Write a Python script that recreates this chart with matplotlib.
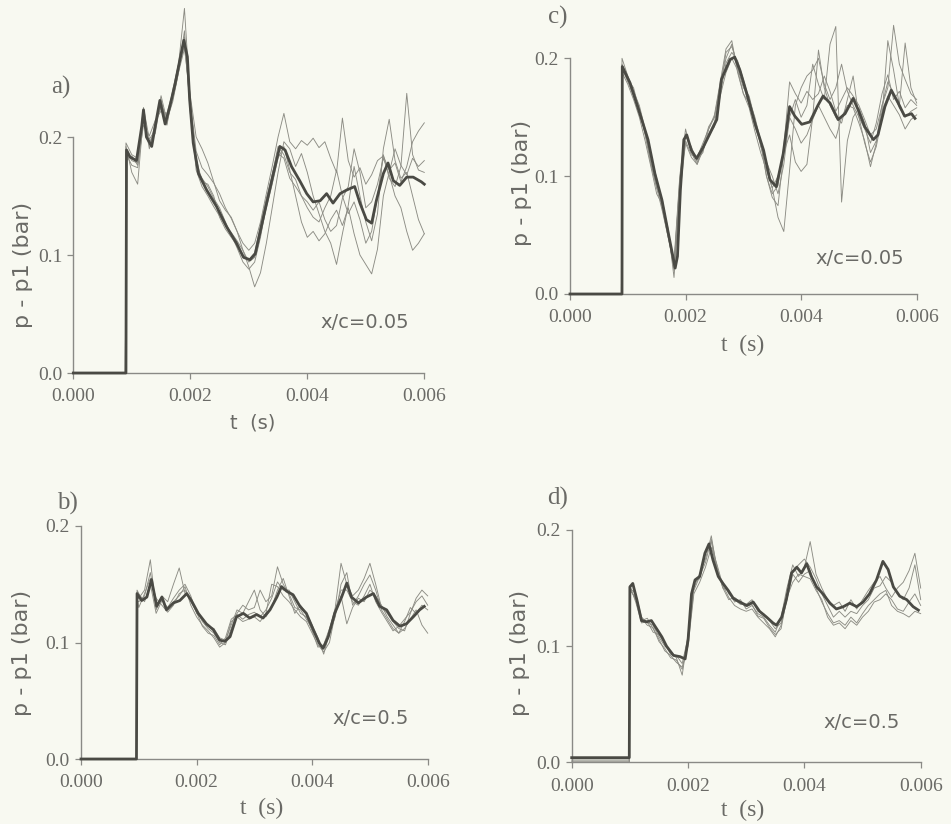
import numpy as np
import matplotlib
matplotlib.use("Agg")
import matplotlib.pyplot as plt

# ---------------------------------------------------------------------------
# Pressure histories p - p1 (bar) versus time (ms); several runs plus the mean
# ---------------------------------------------------------------------------

# Sampling grids for the individual runs (ms)
t_runs_a = [0.0, 0.89] + list(np.round(np.arange(0.9, 6.01, 0.1), 2))
t_runs_c = [0.0, 0.89] + list(np.round(np.arange(0.9, 6.01, 0.1), 2))
t_runs_b = [0.0, 0.96, 0.97] + list(np.round(np.arange(1.0, 6.01, 0.1), 2))
t_runs_d = [0.0, 0.99] + list(np.round(np.arange(1.0, 6.01, 0.1), 2))

# ---- a) x/c = 0.05, first configuration ----
runs_a = [
    [0.0, 0.0, 0.186, 0.176,
     0.174, 0.214, 0.196, 0.203, 0.232, 0.211, 0.240, 0.262, 0.309, 0.230,
     0.188, 0.174, 0.168, 0.161, 0.152, 0.140, 0.131, 0.120, 0.110, 0.104,
     0.110, 0.128, 0.152, 0.175, 0.200, 0.220, 0.196, 0.190, 0.197, 0.193,
     0.199, 0.191, 0.196, 0.182, 0.170, 0.216, 0.180, 0.166, 0.174, 0.160,
     0.168, 0.180, 0.184, 0.172, 0.178, 0.162, 0.175, 0.196, 0.205, 0.212],
    [0.0, 0.0, 0.192, 0.170,
     0.160, 0.218, 0.190, 0.212, 0.225, 0.218, 0.232, 0.255, 0.275, 0.235,
     0.200, 0.190, 0.178, 0.162, 0.146, 0.138, 0.132, 0.120, 0.104, 0.090,
     0.073, 0.085, 0.110, 0.140, 0.170, 0.196, 0.190, 0.175, 0.186, 0.170,
     0.150, 0.135, 0.120, 0.110, 0.092, 0.118, 0.142, 0.175, 0.150, 0.128,
     0.112, 0.135, 0.190, 0.215, 0.180, 0.165, 0.170, 0.150, 0.130, 0.118],
    [0.0, 0.0, 0.180, 0.184,
     0.176, 0.210, 0.201, 0.214, 0.222, 0.220, 0.238, 0.262, 0.285, 0.222,
     0.172, 0.158, 0.150, 0.141, 0.133, 0.125, 0.119, 0.112, 0.104, 0.094,
     0.098, 0.118, 0.140, 0.160, 0.182, 0.192, 0.172, 0.150, 0.128, 0.115,
     0.120, 0.112, 0.118, 0.130, 0.138, 0.125, 0.140, 0.118, 0.100, 0.092,
     0.084, 0.105, 0.150, 0.170, 0.190, 0.176, 0.168, 0.182, 0.175, 0.180],
    [0.0, 0.0, 0.195, 0.185,
     0.182, 0.225, 0.198, 0.206, 0.235, 0.214, 0.230, 0.255, 0.290, 0.220,
     0.176, 0.165, 0.158, 0.148, 0.140, 0.128, 0.117, 0.106, 0.094, 0.088,
     0.094, 0.115, 0.142, 0.168, 0.186, 0.182, 0.165, 0.158, 0.150, 0.145,
     0.138, 0.145, 0.130, 0.120, 0.125, 0.148, 0.158, 0.190, 0.170, 0.140,
     0.145, 0.160, 0.182, 0.168, 0.150, 0.140, 0.120, 0.104, 0.110, 0.118],
    [0.0, 0.0, 0.188, 0.180,
     0.178, 0.220, 0.193, 0.208, 0.230, 0.210, 0.236, 0.258, 0.278, 0.228,
     0.182, 0.162, 0.160, 0.150, 0.132, 0.122, 0.115, 0.108, 0.100, 0.096,
     0.102, 0.125, 0.148, 0.168, 0.192, 0.185, 0.170, 0.164, 0.150, 0.140,
     0.132, 0.128, 0.140, 0.150, 0.172, 0.150, 0.135, 0.145, 0.130, 0.110,
     0.120, 0.150, 0.185, 0.165, 0.158, 0.175, 0.237, 0.185, 0.172, 0.170],
]
t_mean_a = [0.0, 0.90, 0.91, 0.97, 1.08, 1.17, 1.20, 1.25, 1.34, 1.40, 1.48,
            1.57, 1.65, 1.74, 1.82, 1.89, 1.95, 1.99, 2.05, 2.14, 2.28, 2.45,
            2.62, 2.79, 2.91, 3.02, 3.11, 3.25, 3.42, 3.53, 3.62, 3.73, 3.87,
            3.99, 4.10, 4.22, 4.33, 4.44, 4.56, 4.67, 4.81, 4.90, 5.01, 5.10,
            5.18, 5.30, 5.38, 5.47, 5.58, 5.70, 5.81, 5.95, 6.00]
p_mean_a = [0.0, 0.0, 0.189, 0.183, 0.180, 0.209, 0.223, 0.200, 0.192, 0.209,
            0.231, 0.211, 0.226, 0.245, 0.265, 0.282, 0.268, 0.231, 0.195,
            0.169, 0.155, 0.141, 0.124, 0.110, 0.098, 0.096, 0.101, 0.132,
            0.169, 0.192, 0.189, 0.175, 0.163, 0.152, 0.145, 0.146, 0.152,
            0.144, 0.152, 0.155, 0.158, 0.144, 0.130, 0.127, 0.146, 0.169,
            0.178, 0.163, 0.159, 0.166, 0.166, 0.162, 0.160]

# ---- c) x/c = 0.05, second configuration ----
runs_c = [
    [0.0, 0.0, 0.200, 0.185,
     0.172, 0.160, 0.140, 0.118, 0.098, 0.075, 0.052, 0.022, 0.098, 0.134,
     0.125, 0.112, 0.122, 0.136, 0.146, 0.170, 0.196, 0.205, 0.198, 0.182,
     0.165, 0.150, 0.130, 0.108, 0.090, 0.065, 0.053, 0.105, 0.160, 0.175,
     0.185, 0.190, 0.200, 0.178, 0.165, 0.175, 0.195, 0.172, 0.160, 0.150,
     0.140, 0.128, 0.145, 0.170, 0.186, 0.165, 0.172, 0.158, 0.165, 0.160],
    [0.0, 0.0, 0.192, 0.180,
     0.168, 0.152, 0.138, 0.112, 0.090, 0.080, 0.050, 0.020, 0.092, 0.130,
     0.118, 0.116, 0.128, 0.140, 0.150, 0.178, 0.200, 0.212, 0.192, 0.175,
     0.168, 0.148, 0.125, 0.112, 0.100, 0.085, 0.110, 0.150, 0.165, 0.150,
     0.160, 0.195, 0.178, 0.165, 0.212, 0.227, 0.078, 0.130, 0.150, 0.158,
     0.145, 0.120, 0.130, 0.160, 0.175, 0.228, 0.195, 0.182, 0.170, 0.165],
    [0.0, 0.0, 0.195, 0.182,
     0.175, 0.156, 0.136, 0.115, 0.094, 0.072, 0.048, 0.028, 0.100, 0.140,
     0.120, 0.110, 0.125, 0.142, 0.150, 0.175, 0.205, 0.210, 0.195, 0.178,
     0.160, 0.148, 0.128, 0.100, 0.082, 0.075, 0.120, 0.135, 0.112, 0.104,
     0.110, 0.150, 0.207, 0.175, 0.160, 0.150, 0.145, 0.165, 0.185, 0.150,
     0.128, 0.112, 0.125, 0.150, 0.215, 0.190, 0.160, 0.213, 0.175, 0.162],
    [0.0, 0.0, 0.188, 0.178,
     0.165, 0.150, 0.130, 0.108, 0.085, 0.076, 0.055, 0.014, 0.085, 0.128,
     0.116, 0.110, 0.122, 0.135, 0.142, 0.168, 0.188, 0.200, 0.190, 0.170,
     0.158, 0.138, 0.120, 0.105, 0.090, 0.100, 0.120, 0.150, 0.140, 0.128,
     0.135, 0.148, 0.160, 0.150, 0.140, 0.132, 0.150, 0.160, 0.158, 0.145,
     0.130, 0.108, 0.128, 0.155, 0.168, 0.160, 0.152, 0.140, 0.148, 0.152],
    [0.0, 0.0, 0.190, 0.182,
     0.170, 0.158, 0.135, 0.110, 0.090, 0.070, 0.048, 0.024, 0.095, 0.136,
     0.122, 0.114, 0.120, 0.140, 0.152, 0.180, 0.208, 0.215, 0.188, 0.170,
     0.162, 0.142, 0.128, 0.100, 0.085, 0.092, 0.125, 0.180, 0.170, 0.162,
     0.172, 0.165, 0.170, 0.185, 0.172, 0.155, 0.165, 0.175, 0.168, 0.160,
     0.148, 0.135, 0.140, 0.160, 0.180, 0.170, 0.158, 0.150, 0.155, 0.158],
]
t_mean_c = [0.0, 0.90, 0.905, 1.04, 1.21, 1.35, 1.47, 1.59, 1.70, 1.82, 1.86,
            1.91, 1.97, 2.02, 2.10, 2.19, 2.31, 2.45, 2.54, 2.62, 2.77, 2.85,
            2.94, 3.06, 3.20, 3.35, 3.46, 3.57, 3.69, 3.80, 3.89, 4.01, 4.15,
            4.29, 4.38, 4.50, 4.64, 4.76, 4.90, 4.99, 5.10, 5.25, 5.33, 5.45,
            5.56, 5.68, 5.79, 5.91, 5.97]
p_mean_c = [0.0, 0.0, 0.193, 0.179, 0.153, 0.131, 0.102, 0.080, 0.052, 0.022,
            0.032, 0.088, 0.131, 0.135, 0.122, 0.115, 0.125, 0.139, 0.148,
            0.182, 0.199, 0.201, 0.190, 0.170, 0.145, 0.122, 0.097, 0.091,
            0.119, 0.159, 0.151, 0.144, 0.146, 0.160, 0.168, 0.162, 0.148,
            0.153, 0.166, 0.156, 0.142, 0.131, 0.135, 0.159, 0.173, 0.162,
            0.151, 0.153, 0.149]

# ---- b) x/c = 0.5, first configuration ----
runs_b = [
    [0.0, 0.0, 0.140,
     0.138, 0.145, 0.171, 0.128, 0.140, 0.135, 0.150, 0.164, 0.142, 0.138,
     0.128, 0.118, 0.112, 0.108, 0.100, 0.098, 0.112, 0.125, 0.132, 0.128,
     0.130, 0.145, 0.135, 0.140, 0.165, 0.150, 0.142, 0.130, 0.128, 0.120,
     0.112, 0.100, 0.096, 0.110, 0.130, 0.168, 0.150, 0.140, 0.145, 0.155,
     0.168, 0.150, 0.130, 0.125, 0.118, 0.112, 0.110, 0.125, 0.138, 0.145,
     0.140],
    [0.0, 0.0, 0.136,
     0.135, 0.140, 0.160, 0.132, 0.138, 0.128, 0.135, 0.140, 0.148, 0.132,
     0.122, 0.115, 0.110, 0.104, 0.096, 0.100, 0.118, 0.122, 0.118, 0.120,
     0.122, 0.118, 0.125, 0.150, 0.148, 0.140, 0.135, 0.128, 0.122, 0.118,
     0.108, 0.098, 0.092, 0.100, 0.125, 0.140, 0.116, 0.130, 0.138, 0.135,
     0.145, 0.140, 0.132, 0.122, 0.115, 0.108, 0.112, 0.120, 0.128, 0.115,
     0.108],
    [0.0, 0.0, 0.145,
     0.142, 0.135, 0.150, 0.125, 0.136, 0.130, 0.138, 0.145, 0.150, 0.140,
     0.125, 0.120, 0.114, 0.112, 0.104, 0.102, 0.115, 0.128, 0.125, 0.135,
     0.145, 0.128, 0.122, 0.130, 0.145, 0.155, 0.140, 0.125, 0.132, 0.125,
     0.115, 0.104, 0.090, 0.108, 0.122, 0.150, 0.160, 0.132, 0.140, 0.150,
     0.158, 0.145, 0.128, 0.120, 0.112, 0.108, 0.118, 0.130, 0.125, 0.132,
     0.128],
    [0.0, 0.0, 0.138,
     0.130, 0.142, 0.155, 0.138, 0.132, 0.126, 0.132, 0.142, 0.145, 0.135,
     0.126, 0.114, 0.108, 0.106, 0.098, 0.104, 0.120, 0.124, 0.120, 0.124,
     0.126, 0.122, 0.128, 0.138, 0.152, 0.145, 0.145, 0.135, 0.125, 0.122,
     0.110, 0.096, 0.098, 0.112, 0.128, 0.145, 0.145, 0.135, 0.132, 0.140,
     0.150, 0.135, 0.126, 0.118, 0.110, 0.114, 0.120, 0.126, 0.135, 0.140,
     0.132],
]
t_mean_b = [0.0, 0.96, 0.97, 1.05, 1.14, 1.22, 1.31, 1.40, 1.48, 1.60, 1.71,
            1.83, 1.91, 2.03, 2.17, 2.29, 2.40, 2.49, 2.58, 2.69, 2.81, 2.92,
            3.04, 3.15, 3.27, 3.39, 3.47, 3.56, 3.67, 3.79, 3.90, 4.02, 4.13,
            4.19, 4.28, 4.39, 4.51, 4.60, 4.68, 4.80, 4.94, 5.06, 5.17, 5.29,
            5.40, 5.52, 5.63, 5.75, 5.86, 5.94]
p_mean_b = [0.0, 0.0, 0.142, 0.136, 0.139, 0.154, 0.131, 0.139, 0.128, 0.134,
            0.136, 0.142, 0.136, 0.125, 0.116, 0.111, 0.102, 0.101, 0.105,
            0.122, 0.125, 0.121, 0.124, 0.121, 0.128, 0.139, 0.148, 0.144,
            0.141, 0.131, 0.125, 0.111, 0.099, 0.095, 0.105, 0.125, 0.139,
            0.151, 0.139, 0.134, 0.139, 0.142, 0.131, 0.128, 0.119, 0.114,
            0.116, 0.122, 0.128, 0.131]

# ---- d) x/c = 0.5, second configuration ----
runs_d = [
    [0.0, 0.0, 0.150,
     0.145, 0.125, 0.120, 0.118, 0.108, 0.100, 0.096, 0.090, 0.075, 0.110,
     0.150, 0.162, 0.175, 0.195, 0.165, 0.150, 0.148, 0.138, 0.140, 0.132,
     0.135, 0.128, 0.125, 0.118, 0.112, 0.125, 0.150, 0.170, 0.160, 0.168,
     0.190, 0.162, 0.150, 0.140, 0.135, 0.138, 0.130, 0.140, 0.132, 0.140,
     0.148, 0.155, 0.160, 0.150, 0.142, 0.150, 0.155, 0.165, 0.180, 0.150],
    [0.002, 0.002, 0.148,
     0.142, 0.122, 0.124, 0.115, 0.106, 0.096, 0.092, 0.086, 0.082, 0.100,
     0.145, 0.155, 0.168, 0.185, 0.170, 0.152, 0.142, 0.135, 0.132, 0.130,
     0.132, 0.125, 0.120, 0.115, 0.108, 0.118, 0.140, 0.162, 0.155, 0.162,
     0.165, 0.150, 0.138, 0.128, 0.120, 0.122, 0.118, 0.125, 0.120, 0.128,
     0.135, 0.140, 0.145, 0.148, 0.135, 0.130, 0.128, 0.125, 0.130, 0.128],
    [0.0, 0.0, 0.152,
     0.138, 0.120, 0.121, 0.112, 0.110, 0.102, 0.093, 0.092, 0.085, 0.108,
     0.155, 0.158, 0.180, 0.190, 0.162, 0.155, 0.145, 0.140, 0.136, 0.136,
     0.140, 0.130, 0.128, 0.122, 0.115, 0.120, 0.145, 0.165, 0.170, 0.175,
     0.168, 0.158, 0.145, 0.135, 0.125, 0.130, 0.125, 0.130, 0.128, 0.135,
     0.140, 0.150, 0.152, 0.160, 0.155, 0.145, 0.140, 0.150, 0.170, 0.140],
    [0.001, 0.001, 0.150,
     0.140, 0.124, 0.118, 0.116, 0.104, 0.098, 0.090, 0.088, 0.080, 0.104,
     0.148, 0.160, 0.172, 0.192, 0.168, 0.150, 0.140, 0.142, 0.138, 0.134,
     0.136, 0.126, 0.124, 0.116, 0.110, 0.115, 0.142, 0.155, 0.162, 0.160,
     0.158, 0.148, 0.140, 0.125, 0.118, 0.120, 0.115, 0.122, 0.118, 0.125,
     0.130, 0.138, 0.140, 0.145, 0.140, 0.132, 0.130, 0.138, 0.145, 0.135],
]
t_mean_d = [0.0, 0.99, 1.00, 1.05, 1.12, 1.20, 1.29, 1.37, 1.46, 1.55, 1.63,
            1.75, 1.86, 1.95, 2.00, 2.06, 2.12, 2.20, 2.29, 2.36, 2.43, 2.52,
            2.60, 2.69, 2.78, 2.89, 3.01, 3.12, 3.23, 3.35, 3.46, 3.52, 3.61,
            3.69, 3.78, 3.87, 3.95, 4.04, 4.12, 4.21, 4.32, 4.44, 4.55, 4.67,
            4.78, 4.90, 5.01, 5.12, 5.24, 5.35, 5.44, 5.53, 5.64, 5.76, 5.87,
            5.96]
p_mean_d = [0.004, 0.004, 0.151, 0.154, 0.140, 0.122, 0.121, 0.122, 0.115,
            0.108, 0.100, 0.092, 0.091, 0.089, 0.105, 0.145, 0.157, 0.160,
            0.180, 0.188, 0.174, 0.160, 0.154, 0.148, 0.141, 0.138, 0.135,
            0.138, 0.130, 0.125, 0.120, 0.118, 0.125, 0.140, 0.163, 0.168,
            0.163, 0.171, 0.160, 0.151, 0.145, 0.137, 0.132, 0.134, 0.137,
            0.134, 0.138, 0.145, 0.157, 0.173, 0.166, 0.151, 0.143, 0.140,
            0.134, 0.131]

panel_tags = ["a)", "b)", "c)", "d)"]
station_labels = ["x/c=0.05", "x/c=0.5", "x/c=0.05", "x/c=0.5"]
x_ticks = [0.0, 0.002, 0.004, 0.006]
x_ticklabels = ["0.000", "0.002", "0.004", "0.006"]
y_ticks = [0.0, 0.1, 0.2]
y_ticklabels = ["0.0", "0.1", "0.2"]

# ---------------------------------------------------------------------------
W, H = 951, 824
BG = "#f8f9f1"
INK = "#6a6a66"
THIN = "#8c8c84"
THICK = "#4a4a44"
SERIF = ["Liberation Serif", "DejaVu Serif"]
SANS = ["DejaVu Sans"]

fig = plt.figure(figsize=(W / 100, H / 100), dpi=100, facecolor=BG)


def px_axes(x0, x6, y0, y2):
    """Axes whose 0..0.006 s and 0..0.2 bar span the given pixel edges."""
    return fig.add_axes([x0 / W, 1 - y0 / H, (x6 - x0) / W, (y0 - y2) / H])


def ftext(x, y, s, **kw):
    fig.text(x / W, 1 - y / H, s, color=INK, ha="center", va="center", **kw)


panels = [
    # runs, run times, mean times, mean values, axes pixel box
    (runs_a, t_runs_a, t_mean_a, p_mean_a, (73.3, 424.3, 373.0, 137.0)),
    (runs_b, t_runs_b, t_mean_b, p_mean_b, (81.0, 427.7, 759.0, 526.0)),
    (runs_c, t_runs_c, t_mean_c, p_mean_c, (570.0, 916.7, 294.0, 58.3)),
    (runs_d, t_runs_d, t_mean_d, p_mean_d, (571.7, 920.7, 762.3, 530.0)),
]

for runs, t_r, t_m, p_m, box in panels:
    ax = px_axes(*box)
    ax.set_facecolor("none")
    tr = np.asarray(t_r) * 1e-3
    for run in runs:
        ax.plot(tr, run, color=THIN, lw=0.65, clip_on=False, zorder=2)
    ax.plot(np.asarray(t_m) * 1e-3, p_m, color=THICK, lw=2.0,
            clip_on=False, zorder=3, solid_joinstyle="round")
    ax.set_xlim(0, 0.006)
    ax.set_ylim(0, 0.2)
    ax.set_xticks(x_ticks)
    ax.set_xticklabels(x_ticklabels, fontfamily=SERIF, fontsize=14, color=INK)
    ax.set_yticks(y_ticks)
    ax.set_yticklabels(y_ticklabels, fontfamily=SERIF, fontsize=14, color=INK)
    ax.tick_params(axis="x", direction="out", length=4, width=0.9,
                   color="#8a8a86", pad=7)
    ax.tick_params(axis="y", direction="out", length=4, width=0.9,
                   color="#8a8a86", pad=4)
    for side in ("top", "right"):
        ax.spines[side].set_visible(False)
    for side in ("left", "bottom"):
        ax.spines[side].set_color("#8a8a86")
        ax.spines[side].set_linewidth(1.0)

# panel tags
ftext(61, 87, panel_tags[0], fontfamily=SERIF, fontsize=18)
ftext(67, 503, panel_tags[1], fontfamily=SERIF, fontsize=18)
ftext(558, 17, panel_tags[2], fontfamily=SERIF, fontsize=18)
ftext(558, 498, panel_tags[3], fontfamily=SERIF, fontsize=18)

# station annotations
ftext(365, 323, station_labels[0], fontfamily=SANS, fontsize=14)
ftext(371, 718, station_labels[1], fontfamily=SANS, fontsize=14)
ftext(860, 258, station_labels[2], fontfamily=SANS, fontsize=14)
ftext(862, 722, station_labels[3], fontfamily=SANS, fontsize=14)

# axis titles
for (x, y) in [(23, 265), (22, 653), (522, 183), (520, 653)]:
    ftext(x, y, "p - p1 (bar)", fontfamily=SANS, fontsize=16, rotation=90)
ftext(253, 423, "t  (s)", fontfamily=SANS, fontsize=14)
ftext(743, 345, "t  (s)", fontfamily=SERIF, fontsize=17)
ftext(262, 808, "t  (s)", fontfamily=SERIF, fontsize=17)
ftext(743, 810, "t  (s)", fontfamily=SERIF, fontsize=17)

fig.savefig("out.png", dpi=100, facecolor=BG)
